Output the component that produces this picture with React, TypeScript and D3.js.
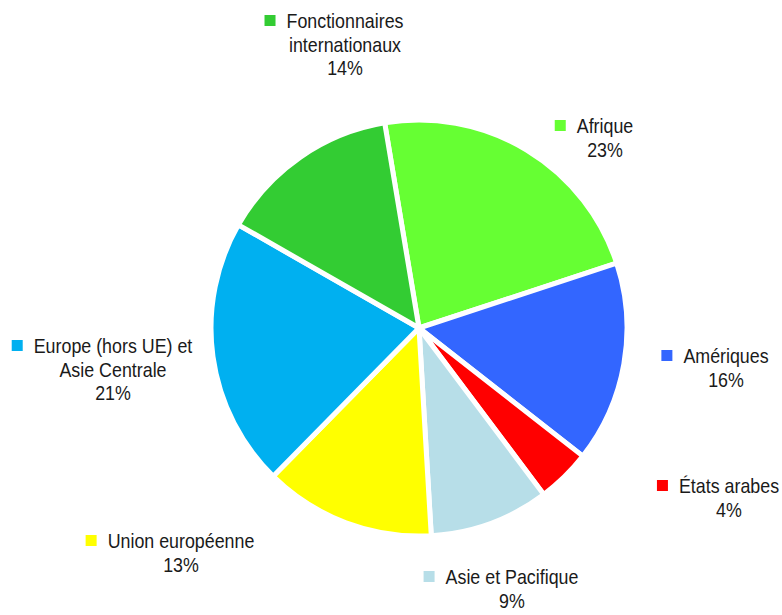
import React, { useRef, useEffect } from 'react'
import * as d3 from 'd3'

// data
const categories = [
  'Afrique',
  'Amériques',
  'États arabes',
  'Asie et Pacifique',
  'Union européenne',
  'Europe (hors UE) et Asie Centrale',
  'Fonctionnaires internationaux',
]
// shares (labels show them rounded)
const shares = [22.6, 15.6, 4.2, 9.3, 13.3, 20.9, 14.1]
const colors = ['#66FF33', '#3366FF', '#FF0000', '#B7DEE8', '#FFFF00', '#00B0F0', '#33CC33']
// label lines as Excel wrapped them
const labelLines = [
  ['Afrique'],
  ['Amériques'],
  ['États arabes'],
  ['Asie et Pacifique'],
  ['Union européenne'],
  ['Europe (hors UE) et', 'Asie Centrale'],
  ['Fonctionnaires', 'internationaux'],
]

// layout: label centre x and first baseline y (Excel best fit placement)
const labelAnchors: [number, number][] = [
  [605, 133],
  [726, 363],
  [729, 493],
  [512, 584],
  [181, 548],
  [113, 353],
  [345, 28],
]

const W = 782
const H = 615
const cx = 419
const cy = 328
const radius = 208
const startDeg = -9.5
const lineH = 23.5
const narrow = 0.85 // Arial Narrow look from Liberation Sans

function App() {
  const svgRef = useRef(null)

  useEffect(() => {
    const svg = d3.select(svgRef.current)
    svg.selectAll('*').remove()

    const pie = d3
      .pie<number>()
      .sort(null)
      .value((d) => d)
      .startAngle((startDeg * Math.PI) / 180)
      .endAngle((startDeg * Math.PI) / 180 + 2 * Math.PI)
    const arcs = pie(shares)

    const arc = d3.arc<d3.PieArcDatum<number>>().innerRadius(0).outerRadius(radius)

    const g = svg.append('g').attr('transform', `translate(${cx},${cy})`)
    g.selectAll('path')
      .data(arcs)
      .join('path')
      .attr('d', arc)
      .attr('fill', (d, i) => colors[i])
      .attr('stroke', '#fff')
      .attr('stroke-width', 5)
      .attr('stroke-linejoin', 'round')

    //labels
    const labels = svg
      .append('g')
      .style('font-family', '"Liberation Sans", Arial, sans-serif')
      .style('font-size', '21px')
      .attr('fill', '#1a1a1a')
      .attr('text-anchor', 'middle')

    const total = d3.sum(shares)
    categories.forEach((c, i) => {
      const [lx, ly] = labelAnchors[i]
      const pct = d3.format('.0%')(shares[i] / total)
      const lines = [...labelLines[i], pct]
      const lg = labels.append('g')
      const texts = lines.map((t, k) =>
        lg
          .append('text')
          .attr('transform', `translate(${lx},${ly + k * lineH}) scale(${narrow},1)`)
          .text(t)
      )
      const first = texts[0].node() as SVGTextElement
      const w = first.getComputedTextLength() * narrow
      lg.append('rect')
        .attr('x', lx - w / 2 - 22)
        .attr('y', ly - 13)
        .attr('width', 11)
        .attr('height', 11)
        .attr('fill', colors[i])
    })
  }, [])

  return (
    <svg
      ref={svgRef}
      width={W}
      height={H}
      style={{ display: 'block', position: 'absolute', left: 0, top: 0 }}
    />
  )
}

export default App
